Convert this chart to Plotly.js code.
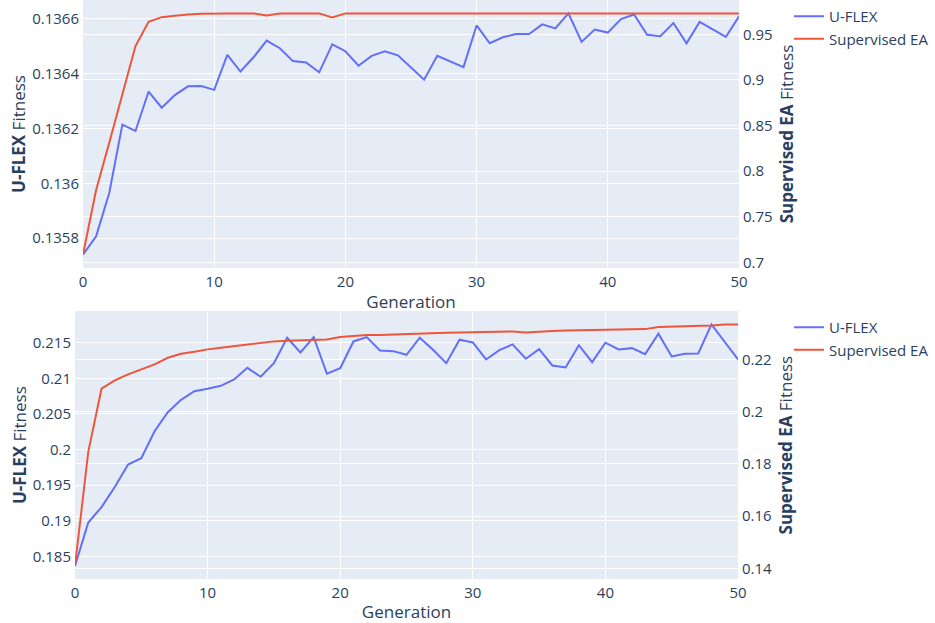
<!DOCTYPE html>
<html>
<head>
<meta charset="utf-8">
<script src="https://cdn.plot.ly/plotly-3.0.1.min.js"></script>
<style>
  html, body { margin: 0; padding: 0; background: #fff; }
  #chart { width: 935px; height: 623px; }
</style>
</head>
<body>
<div id="chart"></div>
<script>
// Generations 0..50
const generations = Array.from({length: 51}, (_, i) => i);

// Top chart
const topUflex = [
  0.13574, 0.135807, 0.135965, 0.136214, 0.136191, 0.136335, 0.136276, 0.136322, 0.136354, 0.136355,
  0.136341, 0.136469, 0.136408, 0.136460, 0.136521, 0.136493, 0.136446, 0.136441, 0.136405, 0.136507,
  0.136482, 0.136429, 0.136465, 0.136482, 0.136467, 0.136423, 0.136378, 0.136465, 0.136444, 0.136424,
  0.136576, 0.136511, 0.136533, 0.136545, 0.136545, 0.136580, 0.136565, 0.136620, 0.136516, 0.136561,
  0.136550, 0.136599, 0.136616, 0.136542, 0.136537, 0.136585, 0.136511, 0.136589, 0.136562, 0.136534,
  0.136609
];
const topSupervised = [
  0.7085, 0.7793, 0.8311, 0.8839, 0.9372, 0.9638, 0.9689, 0.9704, 0.9719, 0.9725,
  0.9730, 0.9730, 0.9730, 0.9730, 0.9708, 0.9730, 0.9730, 0.9730, 0.9730, 0.9686,
  0.9730, 0.9730, 0.9730, 0.9730, 0.9730, 0.9730, 0.9730, 0.9730, 0.9730, 0.9730,
  0.9730, 0.9730, 0.9730, 0.9730, 0.9730, 0.9730, 0.9730, 0.9730, 0.9730, 0.9730,
  0.9730, 0.9730, 0.9730, 0.9730, 0.9730, 0.9730, 0.9730, 0.9730, 0.9730, 0.9730,
  0.9730
];

// Bottom chart
const bottomUflex = [
  0.18368, 0.18977, 0.19193, 0.19475, 0.19790, 0.19880, 0.20257, 0.20524, 0.20698, 0.20819,
  0.20853, 0.20895, 0.20984, 0.21148, 0.21022, 0.21213, 0.21570, 0.21364, 0.21579, 0.21064,
  0.21143, 0.21518, 0.21579, 0.21392, 0.21382, 0.21331, 0.21570, 0.21402, 0.21213, 0.21542,
  0.21504, 0.21265, 0.21396, 0.21476, 0.21275, 0.21410, 0.21181, 0.21153, 0.21466, 0.21227,
  0.21500, 0.21406, 0.21424, 0.21340, 0.21627, 0.21307, 0.21345, 0.21349, 0.21757, 0.21508,
  0.21265
];
const bottomSupervised = [
  0.1410, 0.1846, 0.20877, 0.21198, 0.21427, 0.21618, 0.21809, 0.22061, 0.22214, 0.22290,
  0.22382, 0.22443, 0.22497, 0.22573, 0.22623, 0.22688, 0.22710, 0.22726, 0.22726, 0.22764,
  0.22852, 0.22890, 0.22928, 0.22928, 0.22940, 0.22967, 0.22978, 0.23005, 0.23016, 0.23031,
  0.23043, 0.23054, 0.23070, 0.23070, 0.23031, 0.23043, 0.23081, 0.23108, 0.23119, 0.23131,
  0.23146, 0.23157, 0.23157, 0.23157, 0.23234, 0.23245, 0.23261, 0.23272, 0.23299, 0.23337,
  0.23337
];

const seriesNames = ['U-FLEX', 'Supervised EA'];
const colors = ['#636efa', '#EF553B'];

const W = 935, H = 623;
const fontColor = '#2a3f5f';
const tickFont = {family: '"Open Sans", verdana, arial, sans-serif', size: 15, color: fontColor};
const titleFont = {family: '"Open Sans", verdana, arial, sans-serif', size: 17, color: fontColor};

const traces = [
  {x: generations, y: topUflex, name: seriesNames[0], type: 'scatter', mode: 'lines',
   line: {color: colors[0], width: 2}, xaxis: 'x', yaxis: 'y', legend: 'legend'},
  {x: generations, y: topSupervised, name: seriesNames[1], type: 'scatter', mode: 'lines',
   line: {color: colors[1], width: 2}, xaxis: 'x', yaxis: 'y2', legend: 'legend'},
  {x: generations, y: bottomUflex, name: seriesNames[0], type: 'scatter', mode: 'lines',
   line: {color: colors[0], width: 2}, xaxis: 'x2', yaxis: 'y3', legend: 'legend2'},
  {x: generations, y: bottomSupervised, name: seriesNames[1], type: 'scatter', mode: 'lines',
   line: {color: colors[1], width: 2}, xaxis: 'x2', yaxis: 'y4', legend: 'legend2'}
];

const gridAx = {
  gridcolor: 'white', linecolor: 'white', zerolinecolor: 'white', zerolinewidth: 2,
  ticks: '', tickfont: tickFont, automargin: false
};

const layout = {
  width: W, height: H,
  margin: {l: 0, r: 0, t: 0, b: 0},
  paper_bgcolor: 'white',
  plot_bgcolor: '#E5ECF6',
  font: {family: '"Open Sans", verdana, arial, sans-serif', size: 14, color: fontColor},
  showlegend: true,
  xaxis: Object.assign({}, gridAx, {domain: [83/W, 739/W], anchor: 'y',
    title: {text: 'Generation', font: titleFont, standoff: 6}}),
  yaxis: Object.assign({}, gridAx, {domain: [1 - 268/H, 1], anchor: 'x',
    title: {text: '<b>U-FLEX</b> Fitness', font: titleFont}}),
  yaxis2: Object.assign({}, gridAx, {overlaying: 'y', side: 'right', anchor: 'x',
    title: {text: '<b>Supervised EA</b> Fitness', font: titleFont}}),
  xaxis2: Object.assign({}, gridAx, {domain: [75/W, 738/W], anchor: 'y3',
    title: {text: 'Generation', font: titleFont, standoff: 6}}),
  yaxis3: Object.assign({}, gridAx, {domain: [1 - 579.3/H, 1 - 311/H], anchor: 'x2',
    title: {text: '<b>U-FLEX</b> Fitness', font: titleFont}}),
  yaxis4: Object.assign({}, gridAx, {overlaying: 'y3', side: 'right', anchor: 'x2',
    title: {text: '<b>Supervised EA</b> Fitness', font: titleFont}}),
  legend: {x: 789/W, y: 1, xanchor: 'left', yanchor: 'top', font: {size: 15, color: fontColor}},
  legend2: {x: 789/W, y: 1 - 311/H, xanchor: 'left', yanchor: 'top', font: {size: 15, color: fontColor}}
};

Plotly.newPlot('chart', traces, layout, {displayModeBar: false, staticPlot: true});
</script>
</body>
</html>
